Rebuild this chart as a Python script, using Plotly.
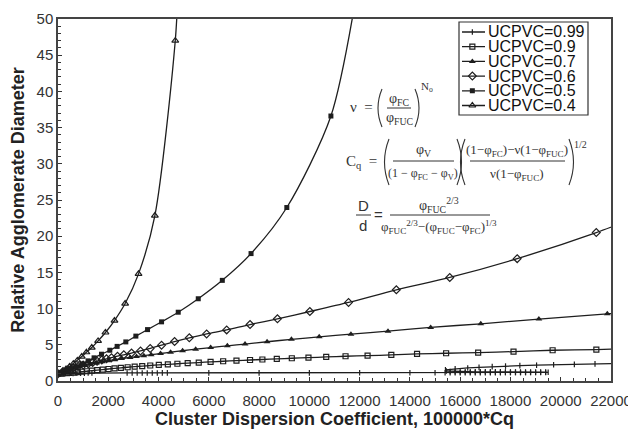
import plotly.graph_objects as go

# ---------------- data ----------------
series_names = ["UCPVC=0.99", "UCPVC=0.9", "UCPVC=0.7", "UCPVC=0.6", "UCPVC=0.5", "UCPVC=0.4"]

x_099 = [0, 150, 300, 450, 600, 750, 900, 1050, 1200, 1350, 2750, 2950, 3150, 3350, 3550,
         3750, 3950, 4150, 4350, 6000, 8000, 10000, 12000, 14000, 15000, 15400, 15600, 15800,
         16000, 16200, 16400, 16600, 16800, 17000, 17200, 17400, 17600, 17800, 18000, 18200,
         18400, 18600, 18800, 19000, 19200, 19400, 19500, 19400, 19200, 19000, 18800, 18600,
         18400, 18200, 18000, 17800, 17600, 17400, 17200, 17000, 16800, 16600, 16400, 16200,
         16000, 15800, 15600, 15450, 15413, 15800, 16300, 16750, 17274, 17804, 18374, 19039,
         19717, 20542, 21364, 22300]
y_099 = [1.0, 1.02, 1.04, 1.05, 1.06, 1.07, 1.08, 1.09, 1.1, 1.1, 1.11, 1.11, 1.11, 1.11, 1.11,
         1.11, 1.11, 1.12, 1.12, 1.12, 1.12, 1.12, 1.13, 1.13, 1.13, 1.14, 1.14, 1.14,
         1.14, 1.14, 1.14, 1.15, 1.15, 1.15, 1.15, 1.15, 1.15, 1.16, 1.16, 1.16,
         1.16, 1.16, 1.17, 1.17, 1.17, 1.18, 1.2, 1.22, 1.23, 1.23, 1.24, 1.24,
         1.24, 1.25, 1.25, 1.25, 1.26, 1.26, 1.26, 1.27, 1.27, 1.27, 1.28, 1.28,
         1.29, 1.3, 1.32, 1.38, 1.55, 1.7, 1.8, 1.88, 1.98, 2.06, 2.12, 2.18,
         2.25, 2.3, 2.36, 2.42]

x_090 = [0, 150, 300, 450, 600, 780, 960, 1150, 1350, 1560, 1780, 2010, 2250, 2500, 2770, 3050,
         3350, 3670, 4010, 4370, 4750, 5160, 5600, 6070, 6570, 7100, 7640, 8131, 8704, 9302,
         9964, 10670, 11439, 12316, 13260, 14284, 15440, 16715, 18122, 19677, 21417, 23000]
y_090 = [1.0, 1.03, 1.07, 1.11, 1.16, 1.22, 1.28, 1.35, 1.42, 1.5, 1.58, 1.66, 1.74, 1.82, 1.9,
         1.98, 2.06, 2.14, 2.22, 2.3, 2.38, 2.46, 2.55, 2.64, 2.73, 2.82, 2.9, 2.97, 3.05, 3.14,
         3.23, 3.32, 3.42, 3.5, 3.6, 3.74, 3.83, 3.92, 4.06, 4.25, 4.34, 4.5]

x_070 = [0, 200, 420, 640, 860, 1080, 1300, 1530, 1760, 2000, 2250, 2530, 2871, 3123, 3415,
         3706, 4080, 4479, 4957, 5476, 6073, 6737, 7441, 8318, 9287, 10391, 11654, 13128,
         14826, 16819, 19131, 21853, 23000]
y_070 = [1.0, 1.3, 1.55, 1.78, 1.98, 2.15, 2.32, 2.5, 2.65, 2.8, 2.95, 3.1, 3.25, 3.37, 3.5,
         3.64, 3.8, 3.97, 4.18, 4.39, 4.62, 4.86, 5.1, 5.42, 5.75, 6.1, 6.47, 6.88,
         7.4, 7.9, 8.55, 9.28, 9.6]

x_060 = [0, 200, 400, 600, 800, 1000, 1200, 1380, 1555, 1742, 1929, 2128, 2367, 2618, 2925,
         3283, 3668, 4120, 4638, 5223, 5913, 6711, 7640, 8730, 10019, 11559, 13460, 15585,
         18269, 21414, 23000]
y_060 = [1.0, 1.3, 1.55, 1.8, 2.0, 2.2, 2.38, 2.55, 2.72, 2.9, 3.06, 3.22, 3.42, 3.62, 3.86,
         4.15, 4.5, 4.95, 5.45, 5.96, 6.5, 7.06, 7.8, 8.59, 9.6, 10.85, 12.6, 14.3,
         16.9, 20.5, 22.6]

x_050 = [0, 150, 335, 534, 733, 957, 1196, 1435, 1730, 2061, 2352, 2698, 3097, 3562, 4120,
         4783, 5580, 6537, 7680, 9103, 10857, 11950]
y_050 = [1.0, 1.2, 1.45, 1.72, 1.98, 2.36, 2.78, 3.2, 3.7, 4.25, 4.78, 5.4, 6.2, 7.1, 8.17,
         9.5, 11.36, 13.9, 17.6, 23.96, 36.6, 55]

x_040 = [0, 180, 320, 460, 610, 770, 945, 1131, 1343, 1595, 1888, 2247, 2671, 3204, 3854,
         4665, 4800]
y_040 = [1.0, 1.3, 1.65, 2.0, 2.4, 2.85, 3.37, 3.97, 4.62, 5.54, 6.7, 8.35, 10.7, 14.8,
         22.85, 47.0, 56]

x_ticks = list(range(0, 22001, 2000))
y_ticks = list(range(0, 51, 5))
x_ticklabels = [str(v) for v in x_ticks]
y_ticklabels = [str(v) for v in y_ticks]

# ---------------- figure geometry ----------------
# the page body has an 8px margin, so the figure is made 8px smaller and margins shifted
OFF = 8
WIN_W, WIN_H = 636, 431
PLOT_L, PLOT_R, PLOT_T, PLOT_B = 58, 611, 19, 381      # plot area in window pixels
W, H = WIN_W - OFF, WIN_H - OFF
ML, MT = PLOT_L - OFF, PLOT_T - OFF
MR, MB = WIN_W - PLOT_R, WIN_H - PLOT_B
PW, PH = PLOT_R - PLOT_L, PLOT_B - PLOT_T


def ppx(px):
    return (px - PLOT_L) / PW


def ppy(py):
    return (PLOT_B - py) / PH


INK = "#1e1e1e"
SANS = "Liberation Sans, Arial, sans-serif"
SERIF = "Liberation Serif, Times New Roman, serif"
EQ = "#333333"

marker_styles = [
    dict(symbol="line-ns", size=4, line=dict(width=1.2, color=INK)),
    dict(symbol="square-open", size=5, line=dict(width=1.2, color=INK), color=INK),
    dict(symbol="triangle-up", size=6, color=INK),
    dict(symbol="diamond-open", size=6, line=dict(width=1.2, color=INK), color=INK),
    dict(symbol="square", size=5, color=INK),
    dict(symbol="triangle-up-open", size=6, line=dict(width=1.2, color=INK), color=INK),
]
line_shapes = ["linear", "spline", "spline", "spline", "spline", "spline"]
series_x = [x_099, x_090, x_070, x_060, x_050, x_040]
series_y = [y_099, y_090, y_070, y_060, y_050, y_040]

fig = go.Figure()
for name, xs, ys, mk, shp in zip(series_names, series_x, series_y, marker_styles, line_shapes):
    fig.add_trace(go.Scatter(
        x=xs, y=ys, name=name, mode="lines+markers", showlegend=False,
        line=dict(color=INK, width=1.3, shape=shp, smoothing=0.8 if shp == "spline" else None),
        marker=mk, cliponaxis=True,
    ))

# ---------------- legend (boxed, rows like the reference) ----------------
LEG_L, LEG_R, LEG_T, LEG_B = 459, 588, 22, 115
ROW0, ROWH = 32, 14.7
n = len(series_names)
for i, (name, mk) in enumerate(zip(series_names, marker_styles)):
    fig.add_trace(go.Scatter(x=[0, 1], y=[i, i], mode="lines", xaxis="x3", yaxis="y3",
                             line=dict(color=INK, width=1.3), showlegend=False, hoverinfo="skip"))
    fig.add_trace(go.Scatter(x=[0.45], y=[i], mode="markers", xaxis="x3", yaxis="y3",
                             marker=mk, showlegend=False, hoverinfo="skip"))
    fig.add_annotation(x=ppx(486), y=ppy(ROW0 + ROWH * i), xref="paper", yref="paper",
                       text=name, showarrow=False, xanchor="left", yanchor="middle",
                       font=dict(family=SANS, size=16, color="#111111"))
fig.add_shape(type="rect", xref="paper", yref="paper", layer="below",
              x0=ppx(LEG_L), x1=ppx(LEG_R), y0=ppy(LEG_B), y1=ppy(LEG_T),
              line=dict(color="#333333", width=1.2), fillcolor="white")

axis_font = dict(family=SANS, size=15, color="#333333")
title_font = dict(family=SANS, size=18, color="#222222")
fig.update_layout(
    width=W, height=H,
    margin=dict(l=ML, r=MR, t=MT, b=MB, pad=0),
    paper_bgcolor="white", plot_bgcolor="white",
    font=axis_font, showlegend=False,
    xaxis=dict(
        range=[0, 22000], tickvals=x_ticks, ticktext=x_ticklabels, showgrid=False, zeroline=False,
        showline=True, linecolor="#444444", linewidth=1.5, mirror=True, automargin=False,
        ticks="inside", ticklen=4, tickwidth=1.2, tickcolor="#333333",
        minor=dict(ticks="inside", dtick=500, ticklen=3, tickwidth=1, tickcolor="#333333"),
        tickfont=axis_font, ticklabelstandoff=5,
        title=dict(text="<b>Cluster Dispersion Coefficient, 100000*Cq</b>", font=title_font, standoff=4),
    ),
    yaxis=dict(
        range=[0, 50], tickvals=y_ticks, ticktext=y_ticklabels, showgrid=False, zeroline=False,
        showline=True, linecolor="#444444", linewidth=1.5, mirror=True, automargin=False,
        ticks="inside", ticklen=4, tickwidth=1.2, tickcolor="#333333",
        minor=dict(ticks="inside", dtick=1, ticklen=3, tickwidth=1, tickcolor="#333333"),
        tickfont=axis_font,
        title=dict(text="<b>Relative Agglomerate Diameter</b>", font=title_font, standoff=12),
    ),
    xaxis2=dict(range=[0, 22000], overlaying="x", anchor="y", side="bottom", automargin=False,
                showticklabels=False, showgrid=False, zeroline=False, showline=False,
                tickvals=x_ticks, ticks="outside", ticklen=2, tickwidth=1.2, tickcolor="#333333",
                minor=dict(ticks="outside", dtick=500, ticklen=2, tickwidth=1, tickcolor="#333333")),
    yaxis2=dict(range=[0, 50], overlaying="y", anchor="x", side="left", automargin=False,
                showticklabels=False, showgrid=False, zeroline=False, showline=False,
                tickvals=y_ticks, ticks="outside", ticklen=2, tickwidth=1.2, tickcolor="#333333",
                minor=dict(ticks="outside", dtick=1, ticklen=2, tickwidth=1, tickcolor="#333333")),
    xaxis3=dict(domain=[ppx(462), ppx(485)], range=[0, 1], anchor="y3", visible=False,
                fixedrange=True, automargin=False),
    yaxis3=dict(domain=[ppy(ROW0 + ROWH * (n - 0.5)), ppy(ROW0 - ROWH * 0.5)],
                range=[n - 0.5, -0.5], anchor="x3", visible=False, fixedrange=True, automargin=False),
)


# ---------------- equations (annotations + fraction bars + parentheses) ----------------
def txt(px, py, s, size=13, family=SERIF, xanchor="center"):
    fig.add_annotation(x=ppx(px), y=ppy(py), xref="paper", yref="paper", text=s, showarrow=False,
                       xanchor=xanchor, yanchor="middle",
                       font=dict(family=family, size=size, color=EQ))


def bar(px0, px1, py):
    fig.add_shape(type="line", xref="paper", yref="paper", x0=ppx(px0), x1=ppx(px1),
                  y0=ppy(py), y1=ppy(py), line=dict(color=EQ, width=1))


def paren(px, py0, py1, bulge):
    # bulge < 0 -> "(" ; bulge > 0 -> ")"
    xm = px + 2 * bulge
    ym = (py0 + py1) / 2
    path = f"M {ppx(px)},{ppy(py0)} Q {ppx(xm)},{ppy(ym)} {ppx(px)},{ppy(py1)}"
    fig.add_shape(type="path", xref="paper", yref="paper", path=path,
                  line=dict(color=EQ, width=1.1))


# nu = (phi_FC / phi_FUC)^No
txt(361, 107, "ν  =", 15)
paren(382, 89, 127, -4)
txt(399, 99, "φ<sub>FC</sub>", 14)
bar(387, 411, 108)
txt(399, 118, "φ<sub>FUC</sub>", 14)
paren(415, 89, 127, 4)
txt(427, 87, "N<sub>o</sub>", 11)

# Cq = ( phi_V / (1 - phi_FC - phi_V) ) ( ((1-phi_FC) - nu(1-phi_FUC)) / (nu(1-phi_FUC)) )^(1/2)
txt(361, 162, "C<sub>q</sub>  =", 15)
paren(389, 139, 185, -4.5)
txt(423, 150, "φ<sub>V</sub>", 14)
bar(393, 454, 161)
txt(423, 174, "(1 − φ<sub>FC</sub> − φ<sub>V</sub>)", 12)
paren(457, 139, 185, 4.5)
paren(465, 139, 185, -4.5)
txt(517, 150, "(1−φ<sub>FC</sub>)−ν(1−φ<sub>FUC</sub>)", 13)
bar(470, 565, 161)
txt(517, 174, "ν(1−φ<sub>FUC</sub>)", 13)
paren(569, 139, 185, 4.5)
txt(580, 144, "1/2", 10)

# D/d = phi_FUC^(2/3) / (phi_FUC^(2/3) - (phi_FUC - phi_FC)^(1/3))
txt(363, 205, "D", 15, SANS)
bar(356, 371, 215)
txt(363, 226, "d", 15, SANS)
txt(378, 214, "=", 15, SANS)
txt(439, 205, "φ<sub>FUC</sub><sup>2/3</sup>", 14)
bar(390, 490, 215)
txt(439, 227, "φ<sub>FUC</sub><sup>2/3</sup>−(φ<sub>FUC</sub>−φ<sub>FC</sub>)<sup>1/3</sup>", 13)

fig.write_html("out.html")
